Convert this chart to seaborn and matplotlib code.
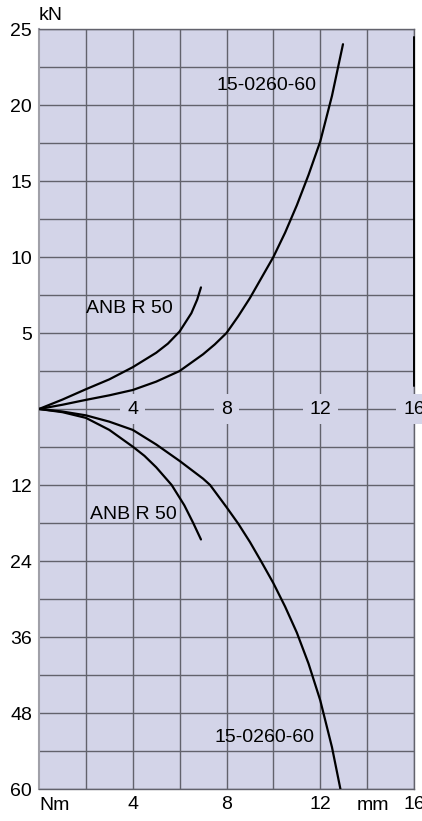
import matplotlib
matplotlib.use("Agg")
import matplotlib.pyplot as plt
import numpy as np
import pandas as pd
import seaborn as sns

# upper half: force (kN) vs travel (mm)
mm_15_kn = [0, 1, 2, 3, 4, 5, 6, 7, 7.5, 8, 8.5, 9, 10, 10.5, 11, 11.5, 12, 12.5, 12.97]
kn_15 = [0, 0.28, 0.6, 0.9, 1.25, 1.8, 2.5, 3.6, 4.25, 5.0, 6.1, 7.3, 10.0, 11.6, 13.4, 15.4, 17.6, 20.6, 24.0]
mm_anb_kn = [0, 1, 2, 3, 4, 5, 5.5, 6, 6.5, 6.75, 6.91]
kn_anb = [0, 0.62, 1.3, 1.95, 2.75, 3.7, 4.3, 5.1, 6.3, 7.2, 8.0]

# lower half: torque (Nm) vs travel (mm)
mm_15_nm = [0, 1, 2, 3, 4, 5, 6, 6.5, 7, 7.3, 7.8, 8, 8.5, 9, 9.5, 10, 10.5, 11, 11.5, 12, 12.5, 12.86]
nm_15 = [0, 0.4, 1.0, 2.0, 3.3, 5.6, 8.2, 9.6, 11.0, 12, 14.5, 15.5, 18.1, 21.0, 24.2, 27.5, 31.2, 35.3, 40.2, 46.0, 53.4, 60]
mm_anb_nm = [0, 1, 2, 3, 4.02, 4.5, 5, 5.66, 6.2, 6.58, 6.91]
nm_anb = [0, 0.5, 1.4, 3.3, 6, 7.4, 9.2, 12, 15.2, 18, 20.6]

kn_ticks = [5, 10, 15, 20, 25]
nm_ticks = [12, 24, 36, 48, 60]
mm_ticks = [4, 8, 12, 16]

scale = 25 / 60  # Nm -> shared y units (60 Nm sits where 25 kN sits)

bg = "#d3d4e8"
gridc = "#62626c"

sns.set_theme(style="white")
plt.rcParams["font.family"] = ["Liberation Sans", "DejaVu Sans"]
plt.rcParams["text.color"] = "black"

fig = plt.figure(figsize=(4.22, 8.21), dpi=100)
ax = fig.add_axes([39 / 422, 32 / 821, 375 / 422, 760 / 821])
ax.set_facecolor(bg)

curves = [
    (mm_15_kn, kn_15, 1),
    (mm_anb_kn, kn_anb, 1),
    (mm_15_nm, nm_15, -scale),
    (mm_anb_nm, nm_anb, -scale),
]
for xs, ys, f in curves:
    d = pd.DataFrame({"mm": xs, "y": np.array(ys) * f})
    sns.lineplot(data=d, x="mm", y="y", ax=ax, sort=False, estimator=None,
                 color="black", lw=1.6, zorder=4)

ax.set_xlim(0, 16)
ax.set_ylim(-25, 25)

yt = [-v * scale for v in nm_ticks[::-1]] + [0] + kn_ticks
yl = [str(v) for v in nm_ticks[::-1]] + [""] + [str(v) for v in kn_ticks]
ax.set_yticks(yt)
ax.set_yticklabels(yl)
ax.set_yticks(np.arange(-22.5, 25, 5), minor=True)
ax.set_xticks(mm_ticks)
ax.set_xticklabels([str(v) for v in mm_ticks])
ax.set_xticks(np.arange(2, 16, 4), minor=True)
ax.grid(which="both", color=gridc, lw=1.0)
ax.set_axisbelow(True)
ax.tick_params(which="both", length=0, labelsize=14, labelcolor="black")
ax.tick_params(axis="y", pad=5)
ax.tick_params(axis="x", pad=5)
ax.set_xlabel("")
ax.set_ylabel("")

for s in ["top", "bottom"]:
    ax.spines[s].set_color(gridc)
    ax.spines[s].set_linewidth(1.0)
ax.spines["left"].set_color("#a0a0a8")
ax.spines["left"].set_linewidth(1.5)
ax.spines["right"].set_color(gridc)
ax.spines["right"].set_linewidth(1.0)
ax.axvline(16, ymin=0.53, ymax=0.99, color="black", lw=1.4, zorder=5, clip_on=False)

# travel labels along the zero line
for v in mm_ticks:
    ax.text(v, 0, str(v), ha="center", va="center", fontsize=14, zorder=3,
            bbox=dict(boxstyle="square,pad=0.35", fc=bg, ec="none"), clip_on=False)

# curve names
ax.text(9.69, 21.25, "15-0260-60", ha="center", va="center", fontsize=14, zorder=5)
ax.text(3.86, 6.6, "ANB R 50", ha="center", va="center", fontsize=14, zorder=5)
ax.text(4.01, -16.7 * scale, "ANB R 50", ha="center", va="center", fontsize=14, zorder=5)
ax.text(9.64, -51.9 * scale, "15-0260-60", ha="center", va="center", fontsize=14, zorder=5)

# unit labels
tr = ax.get_xaxis_transform()
ax.text(0, 1 + 14 / 760, "kN", transform=tr, ha="left", va="center", fontsize=14)
ax.text(0, -16 / 760, "Nm", transform=tr, ha="left", va="center", fontsize=14)
ax.text(14.25, -16 / 760, "mm", transform=tr, ha="center", va="center", fontsize=14)

fig.savefig("out.png", dpi=100)
